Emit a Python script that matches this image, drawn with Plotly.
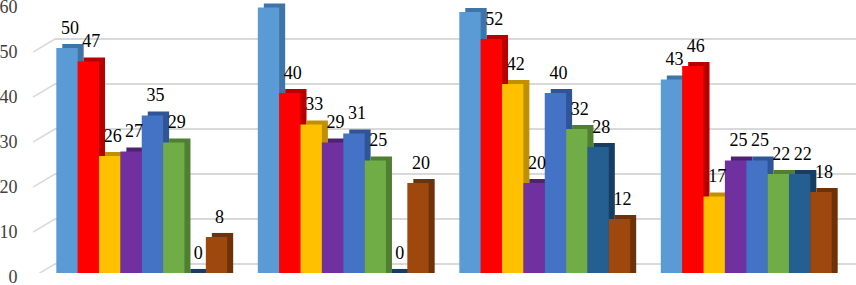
import plotly.graph_objects as go

# ---- data ----
groups = [0, 1, 2, 3]
s1 = [50, 59, 58, 43]
s2 = [47, 40, 52, 46]
s3 = [26, 33, 42, 17]
s4 = [27, 29, 20, 25]
s5 = [35, 31, 40, 25]
s6 = [29, 25, 32, 22]
s7 = [0, 0, 28, 22]
s8 = [8, 20, 12, 18]
series = [s1, s2, s3, s4, s5, s6, s7, s8]
y_ticks = [0, 10, 20, 30, 40, 50, 60]

# ---- style ----
front_colors = ["#5B9BD5", "#FF0000", "#FFC000", "#7030A0",
                "#4472C4", "#70AD47", "#255E91", "#9E480E"]
side_colors = ["#3F74A8", "#B80000", "#BF9000", "#4E2272",
               "#2F5597", "#4F7F31", "#173E62", "#6E320A"]

W_PX, H_PX = 856, 285
UNIT_PX = 201.5          # pixels per category on the x axis
BAR_W = 0.106
START = -0.424
DX = 6 / UNIT_PX         # side-face depth (x units)
DY = 0.9                 # top-face depth (y units)
LABEL_GAP = 0.7          # extra lift for the value labels (y units)
FONT = "Liberation Serif"

fig = go.Figure()

# empty trace to create the "back wall" gridline subplot
fig.add_trace(go.Scatter(x=[], y=[], xaxis="x", yaxis="y",
                         showlegend=False, hoverinfo="skip"))

# side/top faces (drawn first, beneath the fronts)
for i, vals in enumerate(series):
    fig.add_trace(go.Bar(
        x=groups, y=[v + DY for v in vals], base=0,
        offset=START + i * BAR_W + DX, width=BAR_W,
        marker=dict(color=side_colors[i], line=dict(width=0)),
        xaxis="x2", yaxis="y2", showlegend=False, hoverinfo="skip"))

# front faces
for i, vals in enumerate(series):
    fig.add_trace(go.Bar(
        x=groups, y=vals,
        offset=START + i * BAR_W, width=BAR_W,
        marker=dict(color=front_colors[i], line=dict(width=0)),
        xaxis="x2", yaxis="y2", showlegend=False))

# labels (transparent bars carrying the text, drawn on top)
for i, vals in enumerate(series):
    fig.add_trace(go.Bar(
        x=groups, y=[v + DY + LABEL_GAP for v in vals], base=0,
        offset=START + i * BAR_W + DX / 2, width=BAR_W,
        marker=dict(color="rgba(0,0,0,0)", line=dict(width=0)),
        text=[str(v) for v in vals], textposition="outside",
        constraintext="none", cliponaxis=True,
        textfont=dict(family=FONT, size=18, color="#000000"),
        xaxis="x2", yaxis="y2", showlegend=False, hoverinfo="skip"))

y0_frac = (H_PX - 273) / H_PX
y1_frac = (H_PX - 3) / H_PX

# perspective diagonals at the left of the gridlines
shapes = []
for t in y_ticks[:-1]:
    shapes.append(dict(type="line", xref="paper", yref="y",
                       x0=33 / W_PX, x1=55 / W_PX, y0=t - 2.9, y1=t,
                       line=dict(color="#D9D9D9", width=1.5)))

fig.update_layout(
    width=W_PX, height=H_PX,
    margin=dict(l=0, r=0, t=0, b=0, autoexpand=False),
    paper_bgcolor="white", plot_bgcolor="rgba(0,0,0,0)",
    barmode="overlay", showlegend=False,
    shapes=shapes,
    xaxis=dict(domain=[55 / W_PX, 1], range=[0, 1], anchor="y",
               automargin=False,
               showgrid=False, showticklabels=False, zeroline=False,
               showline=False, fixedrange=True),
    yaxis=dict(domain=[y0_frac, y1_frac], range=[-2, 58], anchor="x",
               automargin=False,
               showgrid=True, gridcolor="#D9D9D9", gridwidth=1.5,
               tickvals=y_ticks, showticklabels=False, zeroline=False,
               showline=False),
    xaxis2=dict(domain=[41 / W_PX, 1],
                range=[-0.5, -0.5 + (W_PX - 41) / UNIT_PX], anchor="y2",
                automargin=False,
                showgrid=False, showticklabels=False, zeroline=False,
                showline=False),
    yaxis2=dict(domain=[y0_frac, y1_frac], range=[0, 60], anchor="x2",
                automargin=False,
                showgrid=False, zeroline=False, showline=False,
                tickvals=y_ticks, ticks="outside", ticklen=19,
                tickcolor="rgba(0,0,0,0)",
                ticklabeloverflow="allow", ticklabelshift=4,
                tickfont=dict(family=FONT, size=18, color="#404040")),
)

fig.write_html(
    "out.html",
    config={"displayModeBar": False},
    post_script="document.body.style.margin='0';"
                "document.body.style.overflow='hidden';",
)
